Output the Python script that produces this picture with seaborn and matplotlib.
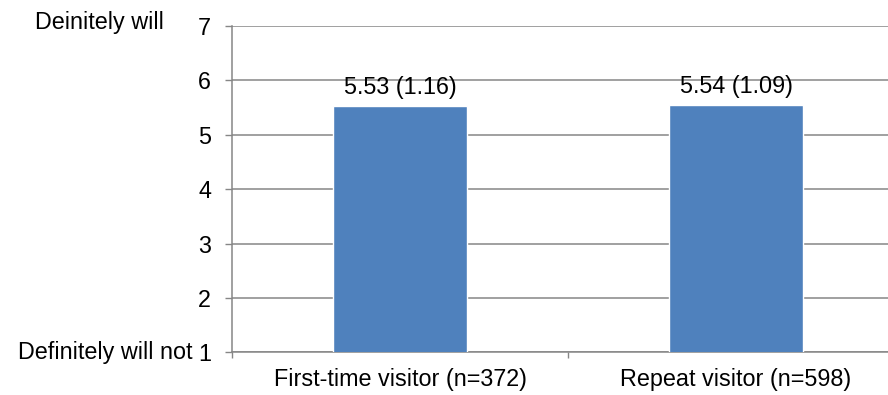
import matplotlib
matplotlib.use("Agg")
import matplotlib.pyplot as plt
import seaborn as sns
import pandas as pd

# Mean intention score (SD in brackets) by visitor type
groups = ["First-time visitor (n=372)", "Repeat visitor (n=598)"]
means = [5.53, 5.54]
sds = [1.16, 1.09]
y_ticks = [1, 2, 3, 4, 5, 6, 7]
top_label = "Deinitely will"
bottom_label = "Definitely will not"

sns.set_style("white")
plt.rcParams["font.family"] = ["Liberation Sans", "DejaVu Sans"]
plt.rcParams["text.color"] = "black"
plt.rcParams["xtick.labelcolor"] = "black"
plt.rcParams["ytick.labelcolor"] = "black"

FS = 16.8
GRID = "#868686"
BAR = "#4F81BD"

df = pd.DataFrame({"group": groups, "mean": means})

fig = plt.figure(figsize=(8.88, 3.95), dpi=100)
ax = fig.add_axes([232 / 888, 42.7 / 395, 672 / 888, 326.3 / 395])

sns.barplot(data=df, x="group", y="mean", color=BAR, saturation=1,
            width=0.4, ax=ax, zorder=3)

ax.set_ylim(y_ticks[0], y_ticks[-1])
ax.set_xlim(-0.5, len(groups) - 0.5)
ax.set_yticks(y_ticks)
ax.set_yticklabels([str(t) for t in y_ticks])
ax.set_xlabel("")
ax.set_ylabel("")

ax.yaxis.grid(True, color=GRID, lw=1.1, zorder=0)
ax.set_axisbelow(True)
for s in ["top", "right"]:
    ax.spines[s].set_visible(False)
for s in ["left", "bottom"]:
    ax.spines[s].set_color(GRID)
    ax.spines[s].set_linewidth(1.1)

ax.tick_params(axis="y", which="major", length=5, width=1, color=GRID,
               pad=10, labelsize=FS, left=True, labelcolor="black")
ax.tick_params(axis="x", which="major", length=0, pad=11.5, labelsize=FS,
               labelcolor="black")
ax.set_xticks([i - 0.5 for i in range(len(groups) + 1)], minor=True)
ax.tick_params(axis="x", which="minor", length=4.5, width=1, color=GRID,
               bottom=True)

labels = [f"{m:.2f} ({s:.2f})" for m, s in zip(means, sds)]
ax.bar_label(ax.containers[0], labels=labels, padding=5, fontsize=FS,
             color="black")

# End-point descriptions of the rating scale
ax.annotate(top_label, xy=(0, y_ticks[-1]), xycoords=("figure pixels", "data"),
            xytext=(35, 3), textcoords="offset pixels", color="black",
            ha="left", va="center", fontsize=FS, annotation_clip=False)
ax.annotate(bottom_label, xy=(193, y_ticks[0]),
            xycoords=("figure pixels", "data"), color="black",
            ha="right", va="center", fontsize=FS, annotation_clip=False)

fig.savefig("out.png", dpi=100)
